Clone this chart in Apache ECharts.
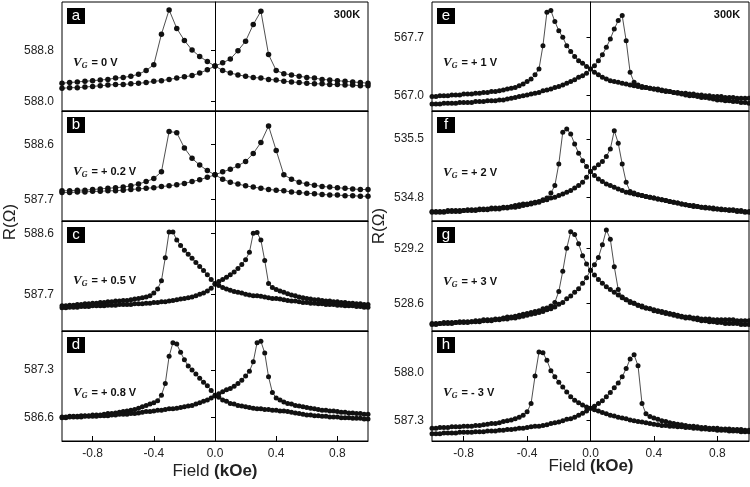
<!DOCTYPE html>
<html>
<head>
<meta charset="utf-8">
<script src="https://cdn.jsdelivr.net/npm/echarts@6/dist/echarts.min.js"></script>
<style>
  html, body { margin: 0; padding: 0; background: #fff; }
  #chart { width: 750px; height: 487px; }
</style>
</head>
<body>
<div id="chart"></div>
<script>
// field grids (kOe)
const fieldCoarse = [
  -1, -0.95, -0.9, -0.85, -0.8, -0.75, -0.7, -0.65, -0.6, -0.55,
  -0.5, -0.45, -0.4, -0.35, -0.3, -0.25, -0.2, -0.15, -0.1, -0.05,
  0,
  0.05, 0.1, 0.15, 0.2, 0.25, 0.3, 0.35, 0.4, 0.45, 0.5,
  0.55, 0.6, 0.65, 0.7, 0.75, 0.8, 0.85, 0.9, 0.95, 1
]
const fieldFine = [
  -1, -0.975, -0.95, -0.925, -0.9, -0.875, -0.85, -0.825, -0.8, -0.775,
  -0.75, -0.725, -0.7, -0.675, -0.65, -0.625, -0.6, -0.575, -0.55, -0.525,
  -0.5, -0.475, -0.45, -0.425, -0.4, -0.375, -0.35, -0.325, -0.3, -0.275,
  -0.25, -0.225, -0.2, -0.175, -0.15, -0.125, -0.1, -0.075, -0.05, -0.025,
  0,
  0.025, 0.05, 0.075, 0.1, 0.125, 0.15, 0.175, 0.2, 0.225, 0.25,
  0.275, 0.3, 0.325, 0.35, 0.375, 0.4, 0.425, 0.45, 0.475, 0.5,
  0.525, 0.55, 0.575, 0.6, 0.625, 0.65, 0.675, 0.7, 0.725, 0.75,
  0.775, 0.8, 0.825, 0.85, 0.875, 0.9, 0.925, 0.95, 0.975, 1
]

// R (ohm), "down" = curve peaking at negative field, "up" = peaking at positive field
const aDown = [
  588.29, 588.30, 588.31, 588.32, 588.33, 588.34, 588.35, 588.37, 588.38, 588.40,
  588.43, 588.49, 588.58, 589.06, 589.44, 589.15, 588.96, 588.81, 588.71, 588.63,
  588.56,
  588.49, 588.45, 588.42, 588.40, 588.38, 588.37, 588.35, 588.34, 588.32, 588.31,
  588.30, 588.29, 588.28, 588.28, 588.27, 588.27, 588.26, 588.26, 588.25, 588.25
]
const aUp = [
  588.21, 588.22, 588.22, 588.23, 588.24, 588.25, 588.26, 588.27, 588.27, 588.28,
  588.29, 588.30, 588.32, 588.33, 588.35, 588.37, 588.39, 588.41, 588.45, 588.50,
  588.56,
  588.61, 588.67, 588.80, 588.95, 589.21, 589.42, 588.74, 588.49, 588.44, 588.42,
  588.40, 588.38, 588.37, 588.35, 588.34, 588.33, 588.32, 588.31, 588.30, 588.29
]
const bDown = [
  587.84, 587.84, 587.85, 587.85, 587.86, 587.87, 587.88, 587.89, 587.90, 587.92,
  587.95, 587.99, 588.04, 588.15, 588.81, 588.79, 588.54, 588.37, 588.26, 588.17,
  588.10,
  588.03, 587.98, 587.95, 587.92, 587.90, 587.88, 587.86, 587.85, 587.84, 587.82,
  587.81, 587.80, 587.79, 587.78, 587.77, 587.77, 587.76, 587.76, 587.75, 587.75
]
const bUp = [
  587.81, 587.81, 587.82, 587.82, 587.83, 587.83, 587.84, 587.84, 587.85, 587.86,
  587.87, 587.88, 587.89, 587.91, 587.92, 587.94, 587.96, 587.99, 588.02, 588.06,
  588.10,
  588.15, 588.19, 588.25, 588.32, 588.45, 588.63, 588.90, 588.50, 588.10, 588.03,
  587.98, 587.95, 587.93, 587.91, 587.90, 587.89, 587.88, 587.87, 587.86, 587.86
]
const cDown = [
  587.53, 587.53, 587.54, 587.54, 587.55, 587.55, 587.56, 587.56, 587.57, 587.57,
  587.58, 587.58, 587.59, 587.59, 587.60, 587.60, 587.61, 587.61, 587.62, 587.63,
  587.64, 587.65, 587.66, 587.68, 587.72, 587.78, 587.90, 588.24, 588.62, 588.62,
  588.50, 588.42, 588.35, 588.29, 588.23, 588.17, 588.11, 588.05, 587.99, 587.92,
  587.86,
  587.83, 587.80, 587.78, 587.76, 587.74, 587.73, 587.72, 587.70, 587.69, 587.68,
  587.68, 587.67, 587.66, 587.65, 587.64, 587.64, 587.63, 587.62, 587.61, 587.60,
  587.60, 587.59, 587.58, 587.58, 587.57, 587.57, 587.56, 587.56, 587.55, 587.55,
  587.55, 587.54, 587.54, 587.53, 587.53, 587.53, 587.52, 587.52, 587.51, 587.51
]
const cUp = [
  587.50, 587.50, 587.51, 587.51, 587.51, 587.52, 587.52, 587.52, 587.53, 587.53,
  587.53, 587.53, 587.54, 587.54, 587.54, 587.55, 587.55, 587.55, 587.55, 587.56,
  587.56, 587.56, 587.57, 587.57, 587.58, 587.58, 587.59, 587.59, 587.60, 587.61,
  587.62, 587.63, 587.64, 587.65, 587.66, 587.68, 587.70, 587.72, 587.75, 587.79,
  587.85,
  587.89, 587.92, 587.95, 587.99, 588.03, 588.08, 588.14, 588.21, 588.32, 588.60,
  588.61, 588.50, 588.20, 587.86, 587.80, 587.77, 587.75, 587.73, 587.71, 587.69,
  587.68, 587.66, 587.65, 587.64, 587.63, 587.62, 587.62, 587.61, 587.60, 587.60,
  587.59, 587.59, 587.58, 587.58, 587.57, 587.57, 587.56, 587.56, 587.55, 587.55
]
const dDown = [
  586.61, 586.61, 586.62, 586.62, 586.62, 586.63, 586.63, 586.63, 586.64, 586.64,
  586.64, 586.65, 586.66, 586.66, 586.67, 586.68, 586.69, 586.70, 586.71, 586.72,
  586.74, 586.76, 586.78, 586.80, 586.82, 586.85, 586.93, 587.10, 587.50, 587.70,
  587.68, 587.56, 587.45, 587.36, 587.30, 587.24, 587.18, 587.12, 587.07, 587.00,
  586.93,
  586.90, 586.86, 586.84, 586.81, 586.80, 586.78, 586.77, 586.76, 586.75, 586.74,
  586.73, 586.73, 586.72, 586.72, 586.71, 586.71, 586.70, 586.70, 586.69, 586.68,
  586.67, 586.66, 586.65, 586.64, 586.64, 586.63, 586.63, 586.62, 586.62, 586.61,
  586.61, 586.61, 586.60, 586.60, 586.60, 586.59, 586.59, 586.59, 586.58, 586.58
]
const dUp = [
  586.60, 586.60, 586.61, 586.61, 586.61, 586.61, 586.62, 586.62, 586.62, 586.62,
  586.63, 586.63, 586.63, 586.64, 586.64, 586.65, 586.65, 586.65, 586.66, 586.66,
  586.67, 586.68, 586.69, 586.69, 586.70, 586.71, 586.71, 586.72, 586.73, 586.73,
  586.74, 586.75, 586.76, 586.77, 586.78, 586.80, 586.82, 586.84, 586.86, 586.89,
  586.92,
  586.95, 586.98, 587.01, 587.03, 587.06, 587.10, 587.15, 587.21, 587.28, 587.42,
  587.70, 587.72, 587.55, 587.20, 586.97, 586.89, 586.86, 586.83, 586.81, 586.80,
  586.78, 586.77, 586.76, 586.75, 586.74, 586.73, 586.72, 586.71, 586.71, 586.70,
  586.70, 586.69, 586.68, 586.68, 586.67, 586.67, 586.66, 586.66, 586.65, 586.65
]
const eDown = [
  566.99, 566.99, 567.00, 567.00, 567.00, 567.01, 567.01, 567.01, 567.02, 567.02,
  567.02, 567.03, 567.03, 567.04, 567.04, 567.05, 567.05, 567.06, 567.07, 567.08,
  567.09, 567.10, 567.12, 567.14, 567.17, 567.20, 567.25, 567.32, 567.60, 568.00,
  568.02, 567.89, 567.78, 567.70, 567.60, 567.53, 567.47, 567.42, 567.39, 567.35,
  567.32,
  567.28, 567.25, 567.22, 567.20, 567.18, 567.17, 567.16, 567.15, 567.14, 567.13,
  567.12, 567.11, 567.10, 567.10, 567.09, 567.08, 567.08, 567.07, 567.06, 567.05,
  567.04, 567.03, 567.02, 567.01, 567.00, 567.00, 566.99, 566.98, 566.98, 566.97,
  566.96, 566.95, 566.95, 566.94, 566.94, 566.93, 566.93, 566.92, 566.92, 566.91
]
const eUp = [
  566.90, 566.90, 566.90, 566.91, 566.91, 566.91, 566.91, 566.92, 566.92, 566.92,
  566.92, 566.93, 566.93, 566.93, 566.94, 566.94, 566.94, 566.95, 566.95, 566.96,
  566.97, 566.98, 566.99, 567.00, 567.01, 567.02, 567.03, 567.04, 567.06, 567.07,
  567.08, 567.10, 567.11, 567.13, 567.15, 567.17, 567.19, 567.22, 567.24, 567.27,
  567.32,
  567.36, 567.42, 567.49, 567.58, 567.68, 567.80, 567.90, 567.96, 567.66, 567.28,
  567.16, 567.13, 567.11, 567.10, 567.09, 567.08, 567.07, 567.06, 567.05, 567.05,
  567.04, 567.04, 567.03, 567.03, 567.02, 567.02, 567.01, 567.01, 567.00, 567.00,
  566.99, 566.99, 566.99, 566.98, 566.98, 566.98, 566.97, 566.97, 566.97, 566.97
]
const fDown = [
  534.63, 534.63, 534.63, 534.63, 534.64, 534.64, 534.64, 534.64, 534.64, 534.65,
  534.65, 534.65, 534.66, 534.66, 534.66, 534.67, 534.67, 534.67, 534.68, 534.68,
  534.69, 534.70, 534.71, 534.72, 534.72, 534.73, 534.74, 534.75, 534.77, 534.79,
  534.85, 534.94, 535.20, 535.58, 535.62, 535.56, 535.44, 535.33, 535.24, 535.17,
  535.11,
  535.06, 535.02, 534.99, 534.96, 534.94, 534.92, 534.90, 534.88, 534.86, 534.85,
  534.84, 534.83, 534.82, 534.81, 534.80, 534.79, 534.78, 534.77, 534.76, 534.75,
  534.74, 534.73, 534.72, 534.71, 534.70, 534.69, 534.69, 534.68, 534.67, 534.67,
  534.66, 534.66, 534.65, 534.65, 534.64, 534.64, 534.63, 534.63, 534.62, 534.62
]
const fUp = [
  534.62, 534.62, 534.62, 534.62, 534.63, 534.63, 534.63, 534.63, 534.64, 534.64,
  534.64, 534.64, 534.65, 534.65, 534.65, 534.66, 534.66, 534.66, 534.67, 534.67,
  534.68, 534.68, 534.69, 534.70, 534.71, 534.72, 534.73, 534.74, 534.76, 534.77,
  534.79, 534.80, 534.82, 534.84, 534.86, 534.88, 534.91, 534.94, 534.98, 535.04,
  535.11,
  535.15, 535.19, 535.23, 535.29, 535.38, 535.60, 535.45, 535.20, 534.98, 534.87,
  534.85, 534.83, 534.82, 534.81, 534.80, 534.79, 534.78, 534.77, 534.76, 534.75,
  534.74, 534.73, 534.72, 534.71, 534.70, 534.70, 534.69, 534.68, 534.68, 534.67,
  534.67, 534.66, 534.66, 534.65, 534.65, 534.65, 534.64, 534.64, 534.63, 534.63
]
const gDown = [
  528.38, 528.38, 528.38, 528.39, 528.39, 528.39, 528.39, 528.40, 528.40, 528.40,
  528.40, 528.41, 528.41, 528.42, 528.42, 528.42, 528.43, 528.43, 528.44, 528.45,
  528.45, 528.46, 528.47, 528.48, 528.49, 528.50, 528.51, 528.52, 528.54, 528.55,
  528.57, 528.61, 528.73, 528.95, 529.20, 529.38, 529.35, 529.25, 529.12, 529.03,
  528.96,
  528.91, 528.86, 528.82, 528.78, 528.75, 528.72, 528.69, 528.66, 528.64, 528.62,
  528.60, 528.58, 528.56, 528.55, 528.54, 528.52, 528.51, 528.50, 528.49, 528.48,
  528.47, 528.46, 528.45, 528.44, 528.44, 528.43, 528.42, 528.41, 528.41, 528.40,
  528.40, 528.39, 528.39, 528.38, 528.38, 528.38, 528.38, 528.37, 528.37, 528.37
]
const gUp = [
  528.37, 528.37, 528.38, 528.38, 528.38, 528.38, 528.39, 528.39, 528.39, 528.39,
  528.40, 528.40, 528.40, 528.41, 528.41, 528.41, 528.42, 528.42, 528.43, 528.43,
  528.44, 528.44, 528.45, 528.46, 528.47, 528.48, 528.49, 528.50, 528.51, 528.53,
  528.54, 528.56, 528.59, 528.61, 528.65, 528.68, 528.72, 528.76, 528.82, 528.88,
  528.96,
  529.02, 529.10, 529.24, 529.40, 529.30, 529.00, 528.75, 528.67, 528.64, 528.61,
  528.60, 528.58, 528.57, 528.55, 528.54, 528.53, 528.52, 528.51, 528.50, 528.49,
  528.48, 528.47, 528.46, 528.45, 528.45, 528.44, 528.44, 528.43, 528.43, 528.43,
  528.42, 528.42, 528.42, 528.42, 528.42, 528.42, 528.41, 528.41, 528.41, 528.41
]
const hDown = [
  587.19, 587.19, 587.20, 587.20, 587.20, 587.21, 587.21, 587.21, 587.22, 587.22,
  587.22, 587.23, 587.23, 587.24, 587.25, 587.26, 587.26, 587.27, 587.29, 587.30,
  587.31, 587.33, 587.35, 587.38, 587.43, 587.55, 587.95, 588.30, 588.29, 588.18,
  588.03, 587.94, 587.86, 587.79, 587.72, 587.65, 587.60, 587.56, 587.53, 587.50,
  587.48,
  587.46, 587.44, 587.42, 587.40, 587.38, 587.37, 587.35, 587.34, 587.33, 587.31,
  587.30, 587.29, 587.28, 587.27, 587.26, 587.25, 587.24, 587.23, 587.23, 587.22,
  587.22, 587.21, 587.21, 587.20, 587.20, 587.19, 587.19, 587.18, 587.18, 587.17,
  587.17, 587.16, 587.16, 587.16, 587.15, 587.15, 587.15, 587.14, 587.14, 587.14
]
const hUp = [
  587.11, 587.11, 587.11, 587.12, 587.12, 587.12, 587.12, 587.13, 587.13, 587.13,
  587.13, 587.14, 587.14, 587.14, 587.15, 587.15, 587.15, 587.16, 587.16, 587.17,
  587.17, 587.18, 587.19, 587.19, 587.20, 587.21, 587.22, 587.22, 587.23, 587.24,
  587.26, 587.27, 587.28, 587.30, 587.32, 587.33, 587.35, 587.38, 587.41, 587.44,
  587.48,
  587.51, 587.55, 587.59, 587.65, 587.71, 587.78, 587.85, 587.94, 588.06, 588.20,
  588.26, 588.10, 587.55, 587.40, 587.36, 587.34, 587.32, 587.30, 587.29, 587.27,
  587.26, 587.25, 587.24, 587.23, 587.22, 587.22, 587.21, 587.20, 587.20, 587.19,
  587.19, 587.19, 587.18, 587.18, 587.18, 587.17, 587.17, 587.17, 587.16, 587.16
]

const panelLetters = ['a', 'b', 'c', 'd', 'e', 'f', 'g', 'h']
const gateVoltages = ['0 V', '+ 0.2 V', '+ 0.5 V', '+ 0.8 V', '+ 1 V', '+ 2 V', '+ 3 V', '- 3 V']
const yTickValues = [
  [588.0, 588.8], [587.7, 588.6], [587.7, 588.6], [586.6, 587.3],
  [567.0, 567.7], [534.8, 535.5], [528.6, 529.2], [587.3, 588.0]
]
const xTickValues = [-0.8, -0.4, 0, 0.4, 0.8]

const panels = [
  { field: fieldCoarse, down: aDown, up: aUp },
  { field: fieldCoarse, down: bDown, up: bUp },
  { field: fieldFine, down: cDown, up: cUp },
  { field: fieldFine, down: dDown, up: dUp },
  { field: fieldFine, down: eDown, up: eUp },
  { field: fieldFine, down: fDown, up: fUp },
  { field: fieldFine, down: gDown, up: gUp },
  { field: fieldFine, down: hDown, up: hUp }
]

// layout
const rowTop = [2, 111, 221, 331]
const rowHeight = [109, 110, 110, 110]
const colLeft = [62, 432]
const colWidth = [306, 317]
const yRange = [
  [587.854, 589.564], [587.345, 589.145], [587.159, 588.781], [586.258, 587.872],
  [566.817, 568.123], [534.515, 535.836], [528.298, 529.498], [587.004, 588.608]
]
const labelY = [[63, 172, 281, 393], [63, 173, 282, 393]]

const FONT = 'Liberation Sans, Arial, sans-serif'
const grids = [], xAxes = [], yAxes = [], series = [], graphics = []

panels.forEach((p, i) => {
  const col = i < 4 ? 0 : 1
  const row = i % 4
  const bottom = row === 3
  grids.push({
    left: colLeft[col], top: rowTop[row], width: colWidth[col], height: rowHeight[row],
    show: true, borderColor: '#000', borderWidth: 1, backgroundColor: 'transparent',
    outerBoundsMode: 'none'
  })
  xAxes.push({
    type: 'value', gridIndex: i, min: -1, max: 1,
    axisLine: { show: true, lineStyle: { color: '#000', width: 1 } },
    axisTick: { show: bottom, inside: true, length: 5, customValues: xTickValues, lineStyle: { color: '#000' } },
    axisLabel: {
      show: bottom, customValues: xTickValues, formatter: v => v.toFixed(1),
      fontSize: 12, color: '#222', fontFamily: FONT, margin: 7
    },
    splitLine: { show: false }
  })
  yAxes.push({
    type: 'value', gridIndex: i, min: yRange[i][0], max: yRange[i][1],
    axisLine: { show: true, lineStyle: { color: '#000', width: 1 } },
    axisTick: { show: true, inside: false, length: 4, customValues: yTickValues[i], lineStyle: { color: '#000' } },
    axisLabel: {
      customValues: yTickValues[i], formatter: v => v.toFixed(1),
      fontSize: 12, color: '#222', fontFamily: FONT, margin: 8
    },
    splitLine: { show: false }
  })
  const size = p.field === fieldCoarse ? 5.5 : 5
  const common = {
    type: 'line', xAxisIndex: i, yAxisIndex: i,
    symbol: 'circle', symbolSize: size, showAllSymbol: true,
    itemStyle: { color: '#111' },
    lineStyle: { color: '#222', width: 0.8 },
    silent: true, animation: false, z: 3
  }
  series.push(Object.assign({}, common, {
    data: p.field.map((x, k) => [x, p.down[k]]),
    markLine: {
      silent: true, symbol: ['none', 'none'], label: { show: false }, animation: false,
      lineStyle: { color: '#000', width: 1, type: 'solid' },
      data: [{ xAxis: 0 }]
    }
  }))
  series.push(Object.assign({}, common, { data: p.field.map((x, k) => [x, p.up[k]]) }))

  // panel letter box
  const bx = colLeft[col] + 5
  const by = rowTop[row] + 6
  graphics.push({ type: 'rect', shape: { x: bx, y: by, width: 18, height: 16 }, style: { fill: '#000' }, z: 10 })
  graphics.push({
    type: 'text', x: bx + 9, y: by + 8, z: 11,
    style: { text: panelLetters[i], fill: '#fff', font: '15px ' + FONT, align: 'center', verticalAlign: 'middle' }
  })
  // gate voltage label
  graphics.push({
    type: 'text', x: colLeft[col] + 11, y: labelY[col][row], z: 11,
    style: {
      text: '{v|V}{g|G}{t| = ' + gateVoltages[i] + '}',
      verticalAlign: 'middle', align: 'left', fill: '#111',
      rich: {
        v: { font: 'italic bold 13px Liberation Serif, serif', fill: '#111' },
        g: { font: 'italic bold 8px Liberation Serif, serif', fill: '#111', padding: [6, 1, 0, 0] },
        t: { font: 'bold 11px ' + FONT, fill: '#111' }
      }
    }
  })
})

// temperature tags
graphics.push({ type: 'text', x: 347, y: 15, style: { text: '300K', font: 'bold 11px ' + FONT, fill: '#111', align: 'center', verticalAlign: 'middle' } })
graphics.push({ type: 'text', x: 727, y: 15, style: { text: '300K', font: 'bold 11px ' + FONT, fill: '#111', align: 'center', verticalAlign: 'middle' } })

// axis titles
const fieldTitle = (cx, cy) => ({
  type: 'text', x: cx, y: cy,
  style: {
    text: '{n|Field }{b|(kOe)}', align: 'center', verticalAlign: 'middle',
    rich: { n: { font: '17px ' + FONT, fill: '#222' }, b: { font: 'bold 17px ' + FONT, fill: '#222' } }
  }
})
graphics.push(fieldTitle(215, 471))
graphics.push(fieldTitle(591, 466))
const rTitle = (cx, cy) => ({
  type: 'text', x: cx, y: cy, rotation: Math.PI / 2,
  style: { text: 'R(Ω)', font: '17px ' + FONT, fill: '#222', align: 'center', verticalAlign: 'middle' }
})
graphics.push(rTitle(10, 222))
graphics.push(rTitle(379, 226))

const chart = echarts.init(document.getElementById('chart'), null, { renderer: 'canvas', width: 750, height: 487 })
chart.setOption({
  animation: false,
  backgroundColor: '#fff',
  grid: grids,
  xAxis: xAxes,
  yAxis: yAxes,
  series: series,
  graphic: graphics
})
</script>
</body>
</html>
